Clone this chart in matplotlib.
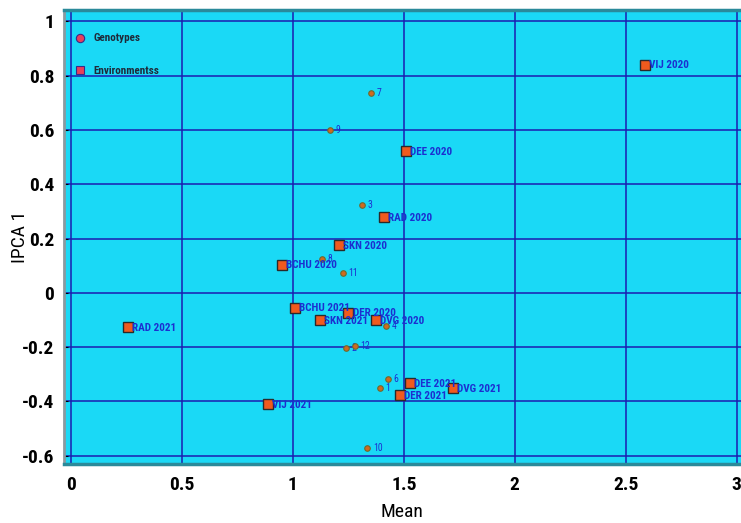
import numpy as np
import matplotlib
matplotlib.use('Agg')
import matplotlib.pyplot as plt
from matplotlib.lines import Line2D

# genotypes (mean, IPCA1)
gen_names = ['1', '2', '3', '4', '6', '7', '8', '9', '10', '11', '12']
gen_mean = [1.392, 1.240, 1.311, 1.421, 1.430, 1.353, 1.132, 1.168, 1.335, 1.225, 1.278]
gen_ipca = [-0.352, -0.202, 0.324, -0.122, -0.318, 0.736, 0.123, 0.601, -0.573, 0.074, -0.196]

# environments
env_names = ['VIJ 2020', 'DEE 2020', 'RAD 2020', 'SKN 2020', 'BCHU 2020', 'DVG 2020', 'DER 2020',
             'BCHU 2021', 'SKN 2021', 'RAD 2021', 'DEE 2021', 'DVG 2021', 'DER 2021', 'VIJ 2021']
env_mean = [2.586, 1.509, 1.409, 1.206, 0.949, 1.373, 1.250,
            1.009, 1.122, 0.255, 1.526, 1.722, 1.481, 0.886]
env_ipca = [0.840, 0.521, 0.280, 0.176, 0.104, -0.100, -0.073,
            -0.054, -0.100, -0.127, -0.332, -0.351, -0.376, -0.411]

xticks = [0, 0.5, 1, 1.5, 2, 2.5, 3]
yticks = [-0.6, -0.4, -0.2, 0, 0.2, 0.4, 0.6, 0.8, 1]

narrow = ['Roboto Condensed', 'DejaVu Sans']
lab_blue = '#1c2fd0'

fig = plt.figure(figsize=(7.41, 5.23), dpi=100)
ax = fig.add_axes([0.086, 0.113, 0.914, 0.868])
ax.set_facecolor('#1ad9f6')

for x in xticks:
    ax.axvline(x, color='#1c1cb0', lw=1.1, zorder=1)
for y in yticks:
    ax.axhline(y, color='#1c1cb0', lw=1.1, zorder=1)

ax.plot(gen_mean, gen_ipca, 'o', ms=4, mfc='#d2691e', mec='#6b6b30', mew=0.8, ls='none', zorder=4)
for n, x, y in zip(gen_names, gen_mean, gen_ipca):
    ax.annotate(n, (x, y), xytext=(4, 0), textcoords='offset points', va='center',
                fontsize=7, color=lab_blue, family=narrow, zorder=3)

ax.plot(env_mean, env_ipca, 's', ms=6.5, mfc='#f05a1e', mec='#2a2a2a', mew=1.0, ls='none', zorder=5)
for n, x, y in zip(env_names, env_mean, env_ipca):
    ax.annotate(n, (x, y), xytext=(3, -0.5), textcoords='offset points', va='center',
                fontsize=8, fontweight='bold', color=lab_blue, family=narrow, zorder=6)

ax.set_xlim(-0.033, 3.02)
ax.set_ylim(-0.63, 1.042)
ax.set_xticks(xticks)
ax.set_xticklabels(['0', '0.5', '1', '1.5', '2', '2.5', '3'])
ax.set_yticks(yticks)
ax.set_yticklabels(['-0.6', '-0.4', '-0.2', '0', '0.2', '0.4', '0.6', '0.8', '1'])
for lbl in ax.get_xticklabels() + ax.get_yticklabels():
    lbl.set_family(narrow)
    lbl.set_fontweight('bold')
    lbl.set_fontsize(14)
ax.tick_params(axis='both', direction='in', length=3, width=0.8, pad=7)
ax.tick_params(axis='x', length=0, pad=9)

ax.set_xlabel('Mean', fontsize=14, family=narrow, labelpad=6)
ax.set_ylabel('IPCA 1', fontsize=14, family=narrow, labelpad=-5)

for side in ['top', 'bottom']:
    ax.spines[side].set_color('#2a8a9a')
    ax.spines[side].set_linewidth(2.5)
ax.spines['left'].set_color('#8a9aa0')
ax.spines['left'].set_linewidth(2)
ax.spines['right'].set_visible(False)

handles = [Line2D([], [], marker='o', ls='none', ms=6, mfc='#e8405a', mec='#3a2a8a', mew=0.8),
           Line2D([], [], marker='s', ls='none', ms=6, mfc='#e8405a', mec='#3a2a8a', mew=0.8)]
leg = ax.legend(handles, ['Genotypes', 'Environmentss'], loc='upper left', frameon=False,
                bbox_to_anchor=(0.009, 0.958), borderaxespad=0.0,
                prop={'family': narrow, 'weight': 'bold', 'size': 8},
                handletextpad=0.7, labelspacing=2.0, handlelength=1.0)
for t in leg.get_texts():
    t.set_color('#1e2a3a')

fig.savefig('out.png', dpi=100)
